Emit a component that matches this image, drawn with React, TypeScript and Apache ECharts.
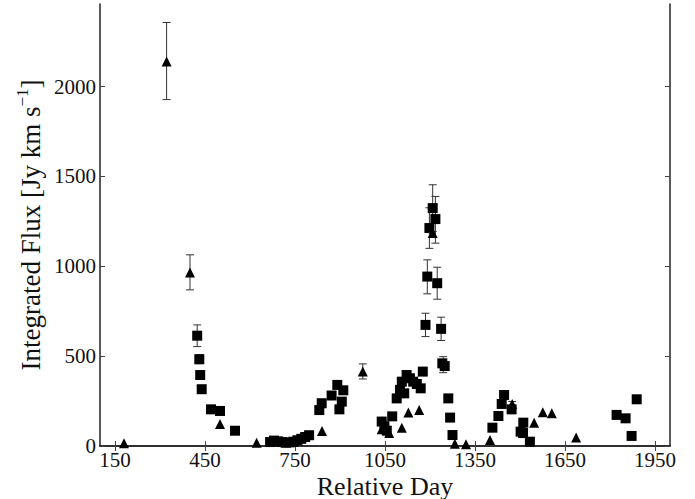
import React, { useEffect, useRef } from "react";
import * as echarts from "echarts";

// Triangles (series A)
const triDays = [180, 322, 400, 500, 622, 840, 976, 1039, 1064, 1106, 1128, 1164, 1209, 1283, 1320, 1400, 1474, 1547, 1576, 1606, 1687];
const triFlux = [15, 2140, 965, 123, 18, 83, 414, 93, 72, 102, 186, 201, 1185, 12, 10, 33, 234, 130, 188, 182, 48];

// Squares (series B)
const sqDays = [424, 431, 434, 439, 470, 500, 550,
  667, 680, 693, 706, 719, 732, 745, 758, 771, 784, 797,
  831, 839, 872, 891, 898, 906, 911,
  1039, 1048, 1056, 1074, 1089, 1100, 1106, 1114, 1122, 1133, 1144, 1156, 1169, 1176,
  1185, 1191, 1198, 1209, 1218, 1224, 1237, 1241, 1249, 1261, 1267, 1275,
  1408, 1428, 1439, 1447, 1472, 1502, 1510, 1511, 1533,
  1822, 1852, 1872, 1889];
const sqFlux = [614, 483, 395, 316, 204, 195, 85,
  22, 30, 26, 22, 18, 20, 24, 32, 40, 50, 60,
  200, 238, 281, 340, 204, 247, 310,
  136, 110, 85, 165, 265, 312, 358, 293, 395, 377, 358, 345, 321, 414,
  674, 943, 1213, 1324, 1263, 906, 652, 460, 445, 265, 158, 61,
  102, 167, 234, 284, 204, 80, 72, 130, 24,
  173, 154, 56, 260];

// Error bars: day, low, high
const errDays = [322, 400, 976, 1474, 424, 431, 434, 439, 891, 1122, 1176, 1185, 1191, 1198, 1209, 1218, 1224, 1237, 1244];
const errLow = [1928, 869, 373, 222, 553, 458, 378, 303, 325, 380, 395, 609, 847, 1100, 1194, 1129, 817, 587, 408];
const errHigh = [2357, 1064, 457, 248, 674, 508, 412, 330, 355, 410, 433, 739, 1036, 1326, 1454, 1389, 995, 717, 497];

const xTicks = [150, 450, 750, 1050, 1350, 1650, 1950];
const yTicks = [0, 500, 1000, 1500, 2000];

const FONT = "Liberation Serif";

export default function App() {
  const ref = useRef<HTMLDivElement>(null);
  useEffect(() => {
    if (!ref.current) return;
    const chart = echarts.init(ref.current, null, { renderer: "svg" });
    const axisLineStyle = { color: "#222", width: 1.5 };
    const tickStyle = { color: "#444", width: 1 };
    const errData = errDays.map((d, i) => [d, errLow[i], errHigh[i]]);
    const fmt = (v: number) => String(v);
    chart.setOption({
      animation: false,
      backgroundColor: "#fff",
      grid: { left: 100, right: 25, top: 4, bottom: 53, containLabel: false, outerBoundsMode: "none" },
      xAxis: [
        {
          type: "value",
          min: 100,
          max: 2000,
          position: "bottom",
          axisLine: { lineStyle: axisLineStyle },
          axisTick: { inside: true, length: 5, customValues: xTicks, lineStyle: tickStyle },
          axisLabel: { customValues: xTicks, formatter: fmt, color: "#111", fontFamily: FONT, fontSize: 21, margin: 4, lineHeight: 20 },
          splitLine: { show: false },
          name: "Relative Day",
          nameLocation: "middle",
          nameGap: 29,
          nameMoveOverlap: false,
          nameTextStyle: { color: "#111", fontFamily: FONT, fontSize: 26, lineHeight: 22 },
        },
        {
          type: "value",
          min: 100,
          max: 2000,
          position: "top",
          axisLine: { lineStyle: axisLineStyle },
          axisTick: { inside: true, length: 5, customValues: xTicks, lineStyle: tickStyle },
          axisLabel: { show: false },
          splitLine: { show: false },
        },
      ],
      yAxis: [
        {
          type: "value",
          min: 0,
          max: 2460,
          position: "left",
          axisLine: { show: true, lineStyle: axisLineStyle },
          axisTick: { show: true, inside: true, length: 5, customValues: yTicks, lineStyle: tickStyle },
          axisLabel: { customValues: yTicks, formatter: fmt, color: "#111", fontFamily: FONT, fontSize: 21, margin: 4 },
          splitLine: { show: false },
          name: "Integrated Flux [Jy km s{sup|\u22121}]",
          nameLocation: "middle",
          nameGap: 52,
          nameMoveOverlap: false,
          nameTextStyle: {
            color: "#111",
            fontFamily: FONT,
            fontSize: 27,
            lineHeight: 34,
            rich: {
              sup: { fontFamily: FONT, fontSize: 17, color: "#111", verticalAlign: "top", lineHeight: 18 },
            },
          },
        },
        {
          type: "value",
          min: 0,
          max: 2460,
          position: "right",
          axisLine: { show: true, lineStyle: axisLineStyle },
          axisTick: { show: true, inside: true, length: 5, customValues: yTicks, lineStyle: tickStyle },
          axisLabel: { show: false },
          splitLine: { show: false },
        },
      ],
      series: [
        {
          type: "custom",
          xAxisIndex: 0,
          yAxisIndex: 0,
          z: 1,
          data: errData,
          renderItem: (params: any, api: any) => {
            const x = api.value(0);
            const p1 = api.coord([x, api.value(1)]);
            const p2 = api.coord([x, api.value(2)]);
            const cw = 4;
            const style = { stroke: "#333", lineWidth: 1 };
            return {
              type: "group",
              children: [
                { type: "line", shape: { x1: p1[0], y1: p1[1], x2: p2[0], y2: p2[1] }, style },
                { type: "line", shape: { x1: p1[0] - cw, y1: p1[1], x2: p1[0] + cw, y2: p1[1] }, style },
                { type: "line", shape: { x1: p2[0] - cw, y1: p2[1], x2: p2[0] + cw, y2: p2[1] }, style },
              ],
            };
          },
        },
        {
          type: "scatter",
          symbol: "triangle",
          symbolSize: 10,
          z: 3,
          itemStyle: { color: "#000", opacity: 1 },
          data: triDays.map((d, i) => [d, triFlux[i]]),
        },
        {
          type: "scatter",
          symbol: "rect",
          symbolSize: 10,
          z: 3,
          itemStyle: { color: "#000", opacity: 1 },
          data: sqDays.map((d, i) => [d, sqFlux[i]]),
        },
      ],
    });
    return () => chart.dispose();
  }, []);
  return <div ref={ref} style={{ width: 695, height: 499, position: "absolute", left: 0, top: 0 }} />;
}
